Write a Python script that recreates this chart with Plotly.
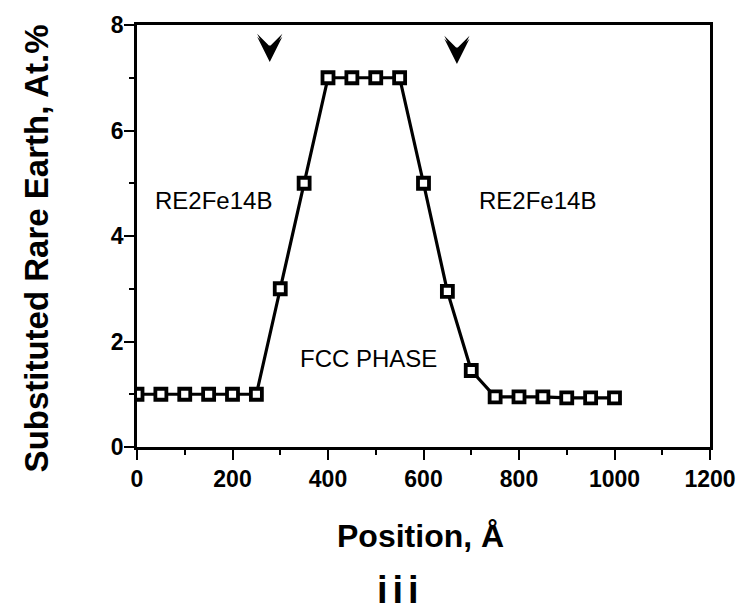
import plotly.graph_objects as go

# Composition profile across the FCC inclusion
position = [0, 50, 100, 150, 200, 250, 300, 350, 400, 450, 500, 550,
            600, 650, 700, 750, 800, 850, 900, 950, 1000]
rare_earth = [1.0, 1.0, 1.0, 1.0, 1.0, 1.0, 3.0, 5.0, 7.0, 7.0, 7.0, 7.0,
              5.0, 2.95, 1.45, 0.95, 0.95, 0.95, 0.93, 0.93, 0.93]

# Interface markers (tip positions of the downward arrowheads)
marker_x = [278, 670]
marker_y = [7.30, 7.26]

x_ticks = [0, 200, 400, 600, 800, 1000, 1200]
y_ticks = [0, 2, 4, 6, 8]

region_labels = ["RE2Fe14B", "RE2Fe14B", "FCC PHASE"]
label_x = [161, 838, 484]
label_y = [4.67, 4.67, 1.67]

FONT = "Liberation Sans, Arial, Helvetica, sans-serif"

fig = go.Figure()
fig.add_trace(go.Scatter(
    x=position, y=rare_earth, mode="lines+markers",
    line=dict(color="black", width=3.2),
    marker=dict(symbol="square", size=11, color="white",
                line=dict(color="black", width=3.8)),
    showlegend=False, hoverinfo="skip",
))

# Chunky notched arrowheads pointing down at the phase boundaries:
# two stacked notched heads give a shallower notch
for mx, my in zip(marker_x, marker_y):
    for shift in (0, 3):
        fig.add_annotation(x=mx, y=my, text="", showarrow=True,
                           arrowhead=3, arrowsize=2.8, arrowwidth=1.5,
                           arrowcolor="black", ax=0, ay=-11, yshift=shift)

for txt, lx, ly in zip(region_labels, label_x, label_y):
    fig.add_annotation(x=lx, y=ly, text=txt, showarrow=False,
                       font=dict(family=FONT, size=24, color="black"))

axis_common = dict(
    showline=True, linecolor="black", linewidth=2.5, mirror=True,
    ticks="outside", ticklen=10, tickwidth=2, tickcolor="black",
    showgrid=False, zeroline=False,
    tickfont=dict(family=FONT, size=23, color="black", weight="bold"),
)

fig.update_xaxes(range=[0, 1200], tickvals=x_ticks,
                 minor=dict(dtick=100, ticks="outside", ticklen=5,
                            tickwidth=2, tickcolor="black", tick0=0),
                 **axis_common)
fig.update_yaxes(range=[0, 8], tickvals=y_ticks, ticklabelstandoff=-4,
                 minor=dict(dtick=1, ticks="outside", ticklen=5,
                            tickwidth=2, tickcolor="black", tick0=0),
                 **axis_common)

# Axis titles and panel label
fig.add_annotation(xref="paper", yref="paper", x=0.495, y=-0.21,
                   text="<b>Position, Å</b>", showarrow=False,
                   xanchor="center", yanchor="middle",
                   font=dict(family=FONT, size=32, color="black"))
fig.add_annotation(xref="paper", yref="paper", x=0.46, y=-0.34,
                   text='<b><span style="letter-spacing:5px">iii</span></b>',
                   showarrow=False, xanchor="center", yanchor="middle",
                   font=dict(family=FONT, size=38, color="black"))
fig.add_annotation(xref="paper", yref="paper", x=-0.175, y=0.47,
                   text="<b>Substituted Rare Earth, At.%</b>", showarrow=False,
                   textangle=-90, xanchor="center", yanchor="middle",
                   font=dict(family=FONT, size=33, color="black"))

fig.update_layout(
    width=748, height=612,
    margin=dict(l=137, r=35, t=20, b=165),
    paper_bgcolor="white", plot_bgcolor="white",
)

fig.write_html("out.html")
